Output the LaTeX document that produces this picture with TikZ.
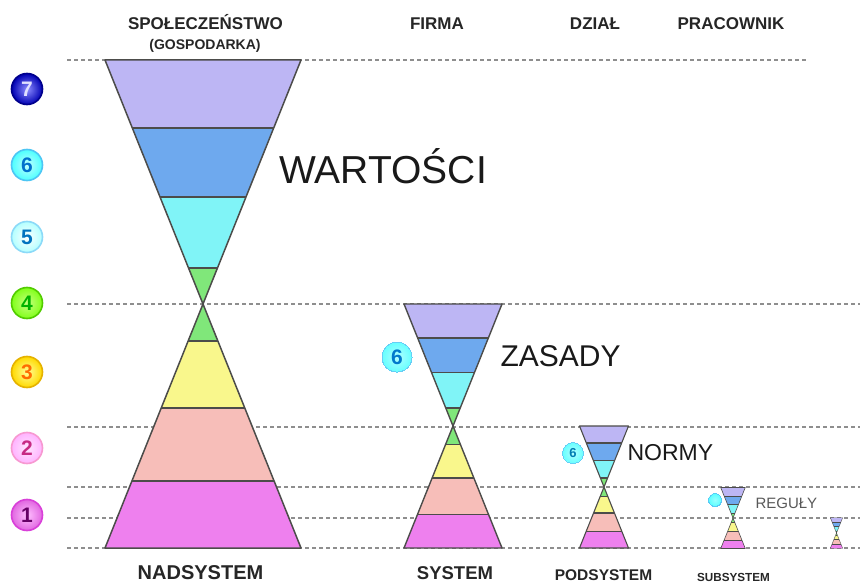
\documentclass[tikz,border=0pt]{standalone}
\usepackage{fontspec}
\setmainfont{Liberation Sans}

\definecolor{cPurple}{HTML}{BDB6F4}
\definecolor{cBlue}{HTML}{6EA9EE}
\definecolor{cCyan}{HTML}{80F4F7}
\definecolor{cGreen}{HTML}{80E77A}
\definecolor{cYellow}{HTML}{F9F78C}
\definecolor{cPink}{HTML}{F7BEB9}
\definecolor{cMagenta}{HTML}{EE80EE}
\definecolor{cEdge}{HTML}{4C4C4A}
\definecolor{cGuide}{HTML}{8E8E8E}

\tikzset{
  % hourglass: apex at the origin, half height 244, half width 98
  hglass/.pic={
    \fill[cPurple]  (-98,-244) -- (98,-244) -- (70.7,-176) -- (-70.7,-176) -- cycle;
    \fill[cBlue]    (-70.7,-176) -- (70.7,-176) -- (43,-107) -- (-43,-107) -- cycle;
    \fill[cCyan]    (-43,-107) -- (43,-107) -- (14.5,-36) -- (-14.5,-36) -- cycle;
    \fill[cGreen]   (-14.5,-36) -- (14.5,-36) -- (0,0) -- cycle;
    \fill[cGreen]   (0,0) -- (14.9,37) -- (-14.9,37) -- cycle;
    \fill[cYellow]  (-14.9,37) -- (14.9,37) -- (41.8,104) -- (-41.8,104) -- cycle;
    \fill[cPink]    (-41.8,104) -- (41.8,104) -- (71.1,177) -- (-71.1,177) -- cycle;
    \fill[cMagenta] (-71.1,177) -- (71.1,177) -- (98,244) -- (-98,244) -- cycle;
    \begin{scope}[draw=cEdge, line width=#1, line join=round]
      \draw (-70.7,-176) -- (70.7,-176);
      \draw (-43,-107) -- (43,-107);
      \draw (-14.5,-36) -- (14.5,-36);
      \draw (-14.9,37) -- (14.9,37);
      \draw (-41.8,104) -- (41.8,104);
      \draw (-71.1,177) -- (71.1,177);
      \draw (-98,-244) -- (98,-244) -- (-98,244) -- (98,244) -- cycle;
    \end{scope}
  },
  guide/.style={draw=cGuide, line width=1.4pt, dash pattern=on 4pt off 3pt},
  badge/.style={circle, inner sep=0pt, minimum size=31pt, line width=1.6pt,
    font=\fontsize{21}{21}\selectfont\bfseries},
  head/.style={anchor=base, text=black!85, font=\fontsize{17}{17}\selectfont\bfseries},
  level/.style={anchor=base west, text=black!90},
}

\begin{document}
\begin{tikzpicture}[x=1pt, y=-1pt]
  \useasboundingbox (0,0) rectangle (860,583);
  \clip (0,0) rectangle (860,583);
  \fill[white] (0,0) rectangle (860,583);

  % level guides
  \draw[guide] (67,60) -- (808,60);
  \foreach \yy in {304,427,487,518,548}
    \draw[guide] (67,\yy) -- (860,\yy);

  % hourglasses, each half the size of the previous one
  \pic at (203,304) {hglass=1.5pt};
  \pic[scale=0.5] at (453,426) {hglass=1.4pt};
  \pic[scale=0.25] at (604,487) {hglass=1.1pt};
  \pic[scale=0.125] at (733,518) {hglass=0.6pt};
  \pic[scale=0.0625] at (836.5,533) {hglass=0.4pt};

  % level badges
  \node[badge, shade, inner color=blue!45!white, outer color=blue!70!black, draw=blue!55!black, text=blue!12!white] (n7) at (27,89) {7};
  \node[badge, shade, inner color=cyan!25!white, outer color=cyan!70!white, draw=cyan!70!white, text=blue!45!cyan!80!black] (n6) at (27,165) {6};
  \node[badge, shade, inner color=white, outer color=cyan!30!white, draw=cyan!45!white, text=blue!40!cyan!75!black] (n5) at (27,237) {5};
  \node[badge, shade, inner color=green!45!yellow!50!white, outer color=green!55!yellow!90!white, draw=green!60!yellow!80!black, text=green!70!black] (n4) at (27,303) {4};
  \node[badge, shade, inner color=yellow!40!white, outer color=orange!30!yellow, draw=orange!45!yellow!90!black, text=orange!85!red] (n3) at (27,372) {3};
  \node[badge, shade, inner color=magenta!10!white, outer color=magenta!30!white, draw=magenta!40!white, text=magenta!80!black] (n2) at (27,448) {2};
  \node[badge, shade, inner color=magenta!25!white, outer color=violet!40!magenta!60!white, draw=violet!40!magenta!75!white, text=violet!80!black] (n1) at (27,515) {1};

  % column headings
  \node[head] (hSpol) at (205.5,30) {SPOŁECZEŃSTWO};
  \node[head, font=\fontsize{14}{14}\selectfont\bfseries] (hGosp) at (205,50) {(GOSPODARKA)};
  \node[head] (hFirma) at (437,30) {FIRMA};
  \node[head] (hDzial) at (595,30) {DZIAŁ};
  \node[head] (hPrac) at (731,30) {PRACOWNIK};

  % system names
  \node[head, font=\fontsize{20}{20}\selectfont\bfseries] (bNad) at (200.5,579) {NADSYSTEM};
  \node[head, font=\fontsize{18.5}{18.5}\selectfont\bfseries] (bSys) at (455,579) {SYSTEM};
  \node[head, font=\fontsize{15.5}{15.5}\selectfont\bfseries] (bPod) at (603.5,580) {PODSYSTEM};
  \node[head, font=\fontsize{11.7}{11.7}\selectfont\bfseries] (bSub) at (733.5,581) {SUBSYSTEM};

  % level names
  \node[level, font=\fontsize{39}{39}\selectfont] (tWart) at (276,183) {WARTOŚCI};
  \node[level, font=\fontsize{30}{30}\selectfont] (tZas) at (497,366) {ZASADY};
  \node[level, font=\fontsize{23}{23}\selectfont] (tNorm) at (624,460) {NORMY};
  \node[level, text=black!65, font=\fontsize{15}{15}\selectfont] (tReg) at (752,508) {REGUŁY};

  % level-6 markers beside the smaller hourglasses
  \node[badge, minimum size=30pt, line width=0pt, shade, inner color=cyan!30!white, outer color=cyan!60!white, draw=cyan!60!white, text=blue!40!cyan!80!black] (m6a) at (397,357) {6};
  \node[badge, minimum size=21pt, line width=0pt, font=\fontsize{13}{13}\selectfont\bfseries, shade, inner color=cyan!30!white, outer color=cyan!60!white, draw=cyan!60!white, text=blue!30!cyan!70!black] (m6b) at (573,453) {6};
  \node[badge, minimum size=13pt, line width=0pt, shade, inner color=cyan!40!white, outer color=cyan!65!white, draw=cyan!65!white] (m6c) at (715,500) {};
\end{tikzpicture}
\end{document}
